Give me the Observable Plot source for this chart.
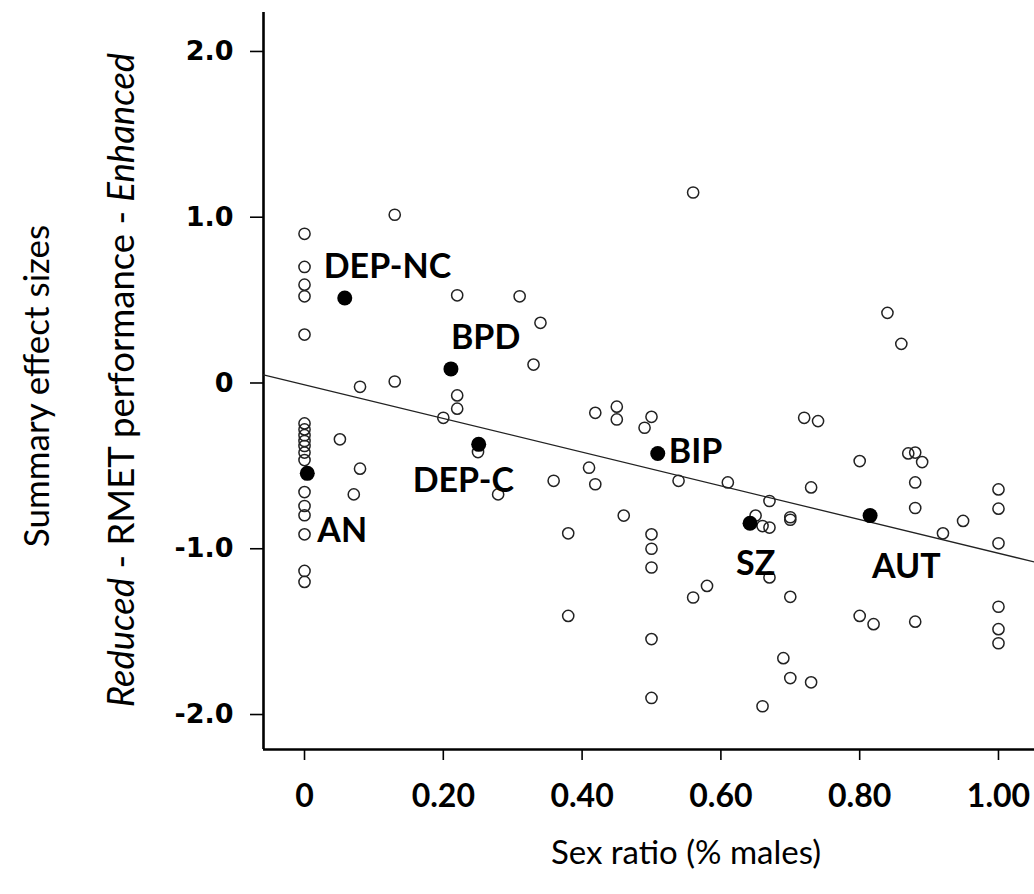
<!DOCTYPE html>
<html>
<head>
<meta charset="utf-8">
<script src="https://cdn.jsdelivr.net/npm/d3@7"></script>
<script src="https://cdn.jsdelivr.net/npm/@observablehq/plot@0.6"></script>
<style>
  html, body { margin: 0; padding: 0; background: #fff; }
  #chart svg { display: block; }
</style>
</head>
<body>
<div id="chart"></div>
<script>
// ---- Data ----
// Individual studies (open circles): sex ratio (share of males) and effect size
const studyRatio = [
  0, 0, 0, 0, 0, 0, 0, 0, 0, 0, 0, 0, 0, 0, 0, 0, 0, 0,
  0.13, 0.22, 0.08, 0.13, 0.22, 0.22, 0.20, 0.33, 0.34, 0.31, 0.25,
  0.051, 0.08, 0.071, 0.279, 0.359,
  0.56, 0.419, 0.45, 0.45, 0.50, 0.49, 0.72, 0.74,
  0.41, 0.419, 0.539, 0.61, 0.67, 0.73, 0.46, 0.38,
  0.50, 0.50, 0.50, 0.65, 0.66, 0.67, 0.70, 0.70,
  0.67, 0.58, 0.56, 0.70, 0.38, 0.50, 0.69, 0.70, 0.73, 0.50, 0.66,
  0.84, 0.86, 0.80, 0.87, 0.88, 0.89, 0.88, 0.88, 0.92, 0.949,
  1.0, 1.0, 1.0, 0.80, 0.82, 0.88, 1.0, 1.0, 1.0
];
const studyEffect = [
  0.90, 0.70, 0.593, 0.523, 0.292, -0.244, -0.28, -0.315, -0.35, -0.38, -0.42, -0.465,
  -0.658, -0.742, -0.798, -0.913, -1.134, -1.20,
  1.015, 0.529, -0.023, 0.009, -0.075, -0.155, -0.21, 0.111, 0.363, 0.523, -0.417,
  -0.34, -0.517, -0.672, -0.672, -0.59,
  1.149, -0.18, -0.143, -0.22, -0.204, -0.27, -0.21, -0.23,
  -0.511, -0.611, -0.59, -0.60, -0.712, -0.63, -0.80, -0.907,
  -0.913, -1.0, -1.113, -0.80, -0.863, -0.872, -0.81, -0.825,
  -1.173, -1.224, -1.294, -1.29, -1.405, -1.545, -1.66, -1.78, -1.806, -1.90, -1.95,
  0.423, 0.236, -0.471, -0.425, -0.42, -0.477, -0.60, -0.754, -0.907, -0.832,
  -0.642, -0.758, -0.967, -1.405, -1.455, -1.44, -1.35, -1.485, -1.57
];

// Disorder summaries (filled circles)
const disorders     = ["DEP-NC", "BPD", "DEP-C", "AN", "BIP", "SZ", "AUT"];
const disorderRatio = [0.058, 0.211, 0.251, 0.004, 0.509, 0.642, 0.815];
const disorderEffect= [0.513, 0.085, -0.37, -0.545, -0.425, -0.846, -0.80];

// Meta-regression line
const trendIntercept = -0.011;
const trendSlope = -1.016;

// Axis ticks and their labels
const xTicks = [0, 0.2, 0.4, 0.6, 0.8, 1.0];
const xTickLabels = ["0", "0.20", "0.40", "0.60", "0.80", "1.00"];
const yTicks = [-2, -1, 0, 1, 2];
const yTickLabels = ["-2.0", "-1.0", "0", "1.0", "2.0"];

// ---- Layout options (not data) ----
const xDomain = [-0.0591, 1.0519];
const yDomain = [-2.211, 2.235];
const labelOffsets = {
  "DEP-NC": [-21, -20],
  "BPD":    [0, -20],
  "DEP-C":  [-66, 48],
  "AN":     [10, 69],
  "BIP":    [11, 10],
  "SZ":     [-14, 52],
  "AUT":    [2, 62]
};

const studies = studyRatio.map((x, i) => ({x, y: studyEffect[i]}));
const groups = disorders.map((name, i) => ({name, x: disorderRatio[i], y: disorderEffect[i]}));
const trend = xDomain.map(x => ({x, y: trendIntercept + trendSlope * x}));
const xTickData = xTicks.map((v, i) => ({v, label: xTickLabels[i]}));
const yTickData = yTicks.map((v, i) => ({v, label: yTickLabels[i]}));

const chart = Plot.plot({
  width: 1034,
  height: 894,
  marginLeft: 263,
  marginRight: 0,
  marginTop: 12,
  marginBottom: 145,
  style: {background: "white", color: "black", fontFamily: "Lato, sans-serif", overflow: "visible"},
  x: {domain: xDomain},
  y: {domain: yDomain},
  marks: [
    Plot.axisY({ticks: yTicks, tickSize: 13, tickFormat: () => "", strokeWidth: 1.6, label: null}),
    Plot.axisX({ticks: xTicks, tickSize: 11, tickFormat: () => "", strokeWidth: 1.6, label: null}),
    Plot.text(yTickData, {
      x: () => xDomain[0], y: "v", text: "label",
      dx: -30, textAnchor: "end", lineAnchor: "middle",
      fontSize: 27, fontWeight: "bold", fontFamily: "DejaVu Sans", fill: "black"
    }),
    Plot.text(xTickData, {
      x: "v", y: () => yDomain[0], text: "label",
      dy: 47, textAnchor: "middle", lineAnchor: "middle",
      fontSize: 32, fontWeight: "bold", fontFamily: "Lato", fill: "black"
    }),
    Plot.ruleX([xDomain[0]], {strokeWidth: 2.6}),
    Plot.ruleY([yDomain[0]], {strokeWidth: 2.6}),
    Plot.line(trend, {x: "x", y: "y", stroke: "#222", strokeWidth: 1.3}),
    Plot.dot(studies, {x: "x", y: "y", r: 5.6, stroke: "#222", strokeWidth: 1.5, fill: "none"}),
    Plot.dot(groups, {x: "x", y: "y", r: 7.5, fill: "black", stroke: "none"}),
    ...disorders.map(name => Plot.text(groups.filter(g => g.name === name), {
      x: "x", y: "y", text: "name",
      dx: labelOffsets[name][0], dy: labelOffsets[name][1],
      textAnchor: "start", lineAnchor: "bottom",
      fontSize: 34, fontWeight: "bold", fontFamily: "Lato", fill: "black"
    }))
  ]
});

document.getElementById("chart").appendChild(chart);

const svg = d3.select(chart);

// Axis titles
svg.append("text")
  .attr("transform", "translate(35,386) rotate(-90)")
  .attr("text-anchor", "middle")
  .attr("dominant-baseline", "central")
  .attr("font-family", "Lato, sans-serif")
  .attr("font-size", 35)
  .attr("fill", "black")
  .text("Summary effect sizes");

const t2 = svg.append("text")
  .attr("transform", "translate(120,380) rotate(-90)")
  .attr("text-anchor", "middle")
  .attr("dominant-baseline", "central")
  .attr("font-family", "Lato, sans-serif")
  .attr("font-size", 36.5)
  .attr("fill", "black");
t2.append("tspan").attr("font-style", "italic").text("Reduced");
t2.append("tspan").text(" - RMET performance - ");
t2.append("tspan").attr("font-style", "italic").text("Enhanced");

svg.append("text")
  .attr("x", 686)
  .attr("y", 851)
  .attr("text-anchor", "middle")
  .attr("dominant-baseline", "central")
  .attr("font-family", "Lato, sans-serif")
  .attr("font-size", 33)
  .attr("fill", "black")
  .text("Sex ratio (% males)");
</script>
</body>
</html>
